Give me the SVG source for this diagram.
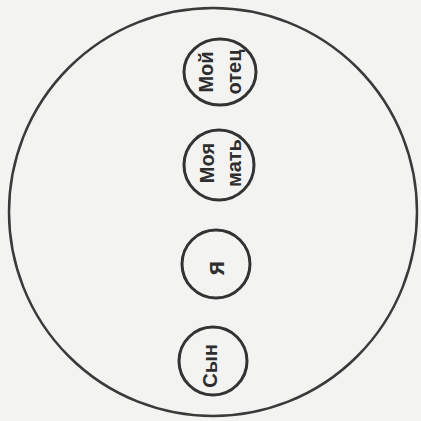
<svg xmlns="http://www.w3.org/2000/svg" width="421" height="421" viewBox="0 0 421 421">
<style>
.outer{fill:none;stroke:#3a3a3a;stroke-width:2.5}
.node circle,.node ellipse{fill:none;stroke:#333;stroke-width:3}
.node text{font-family:"Liberation Sans",Arial,sans-serif;font-weight:bold;font-size:20px;fill:#2e2e2e;text-anchor:middle}
</style>
<rect width="421" height="421" fill="#f3f3f1"/>
<circle class="outer" cx="213" cy="212" r="204"/>
<g id="connectors"></g>
<g id="node-father" class="node">
<ellipse cx="220" cy="72" rx="36" ry="33"/>
<g transform="translate(220 72) rotate(-90)">
<text x="0" y="-7">Мой</text>
<text x="0" y="21">отец</text>
</g>
</g>
<g id="node-mother" class="node">
<circle cx="219" cy="165" r="35"/>
<g transform="translate(219 163) rotate(-90)">
<text x="0" y="-5">Моя</text>
<text x="0" y="22">мать</text>
</g>
</g>
<g id="node-me" class="node">
<circle cx="216" cy="264" r="34"/>
<g transform="translate(216 268) rotate(-90)">
<text x="0" y="8" style="font-size:25px">я</text>
</g>
</g>
<g id="node-son" class="node">
<circle cx="213" cy="361" r="34"/>
<g transform="translate(213 366) rotate(-90)">
<text x="0" y="4">Сын</text>
</g>
</g>
</svg>
